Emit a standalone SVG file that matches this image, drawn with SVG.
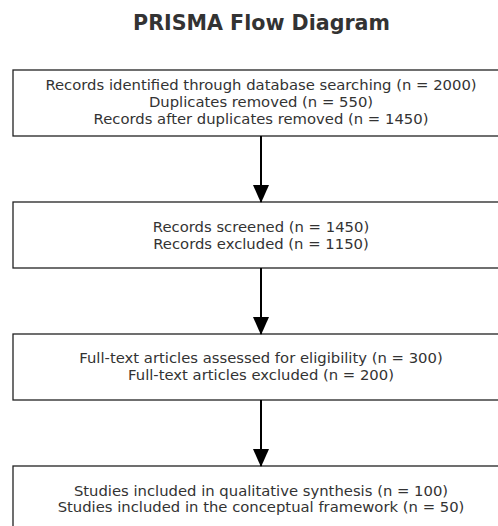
<svg xmlns="http://www.w3.org/2000/svg" width="498" height="526" viewBox="0 0 498 526">
  <style>
    .box { fill: #ffffff; stroke: #222222; stroke-width: 1.3; }
    .label { font-family: "DejaVu Sans", sans-serif; font-size: 14.8px; fill: #333333; text-anchor: middle; }
    .title { font-family: "DejaVu Sans", sans-serif; font-size: 20.6px; font-weight: bold; fill: #333333; text-anchor: middle; }
    .edge { stroke: #000000; stroke-width: 2; fill: none; }
  </style>
  <defs>
    <marker id="arrow" markerUnits="userSpaceOnUse" markerWidth="18" markerHeight="22" refX="17" refY="8" orient="auto">
      <path d="M0,0 L18,8 L0,16 Z" fill="#000000"/>
    </marker>
  </defs>
  <rect width="498" height="526" fill="#ffffff"/>
  <text class="title" x="261.5" y="29.5">PRISMA Flow Diagram</text>

  <g id="identification">
    <rect class="box" x="13" y="70" width="496" height="66"/>
    <text class="label" x="261" y="90">Records identified through database searching (n = 2000)</text>
    <text class="label" x="261" y="107">Duplicates removed (n = 550)</text>
    <text class="label" x="261" y="124">Records after duplicates removed (n = 1450)</text>
  </g>

  <g id="screening">
    <rect class="box" x="13" y="202" width="496" height="66"/>
    <text class="label" x="261" y="232">Records screened (n = 1450)</text>
    <text class="label" x="261" y="248.5">Records excluded (n = 1150)</text>
  </g>

  <g id="eligibility">
    <rect class="box" x="13" y="334" width="496" height="66"/>
    <text class="label" x="261" y="363">Full-text articles assessed for eligibility (n = 300)</text>
    <text class="label" x="261" y="380">Full-text articles excluded (n = 200)</text>
  </g>

  <g id="included">
    <rect class="box" x="13" y="466" width="496" height="66"/>
    <text class="label" x="261" y="495.5">Studies included in qualitative synthesis (n = 100)</text>
    <text class="label" x="261" y="512">Studies included in the conceptual framework (n = 50)</text>
  </g>

  <g id="connectors">
    <line class="edge" x1="261" y1="136" x2="261" y2="202" marker-end="url(#arrow)"/>
    <line class="edge" x1="261" y1="268" x2="261" y2="334" marker-end="url(#arrow)"/>
    <line class="edge" x1="261" y1="400" x2="261" y2="466" marker-end="url(#arrow)"/>
  </g>
</svg>
